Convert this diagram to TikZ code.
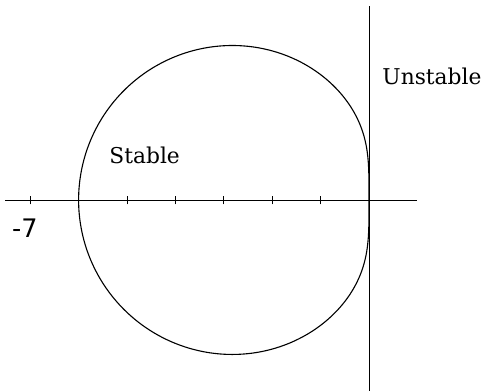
\documentclass[tikz,border=0pt]{standalone}
\usepackage{fontspec}
\setmainfont{DejaVu Serif}
\setsansfont{DejaVu Sans}
\begin{document}
\begin{tikzpicture}[x=1cm,y=1cm,
  declare function={
    nr(\t)=cos(2*\t)-cos(\t);
    ni(\t)=sin(2*\t)-sin(\t);
    dr(\t)=5*cos(2*\t)+8*cos(\t)-1;
    di(\t)=5*sin(2*\t)+8*sin(\t);
  },
  axis/.style={line width=0.5pt},
  tickmark/.style={line width=0.5pt},
  locus/.style={line width=0.65pt},
  lbl/.style={font=\fontsize{12.8}{15}\selectfont, inner sep=0pt},
  numlbl/.style={font=\sffamily\fontsize{15}{17}\selectfont, inner sep=0pt}]
\useasboundingbox (-7.624,-3.946) rectangle (2.335,4.132);
% axes
\coordinate (xl) at (-7.52,0);
\coordinate (xr) at (1.0,0);
\coordinate (yb) at (0,-3.946);
\coordinate (yt) at (0,4.0);
\draw[axis] (xl) -- (xr);
\draw[axis] (yb) -- (yt);
% ticks
\foreach \i in {-7,...,-1}{
  \coordinate (t\i) at (\i,0);
  \draw[tickmark] ([yshift=-0.09cm]t\i) -- ([yshift=0.09cm]t\i);
}
% boundary locus
\draw[locus] plot[domain=0:360, samples=361, smooth, variable=\x]
  ({12*(nr(\x)*dr(\x)+ni(\x)*di(\x))/(dr(\x)^2+di(\x)^2)},
   {12*(ni(\x)*dr(\x)-nr(\x)*di(\x))/(dr(\x)^2+di(\x)^2)});
% labels
\node[lbl, anchor=base west] (stable) at (-5.37,0.764) {Stable};
\node[lbl, anchor=base west] (unstable) at (0.27,2.376) {Unstable};
\node[numlbl, anchor=base] (m7) at (-7.11,-0.785) {-7};
\end{tikzpicture}
\end{document}
